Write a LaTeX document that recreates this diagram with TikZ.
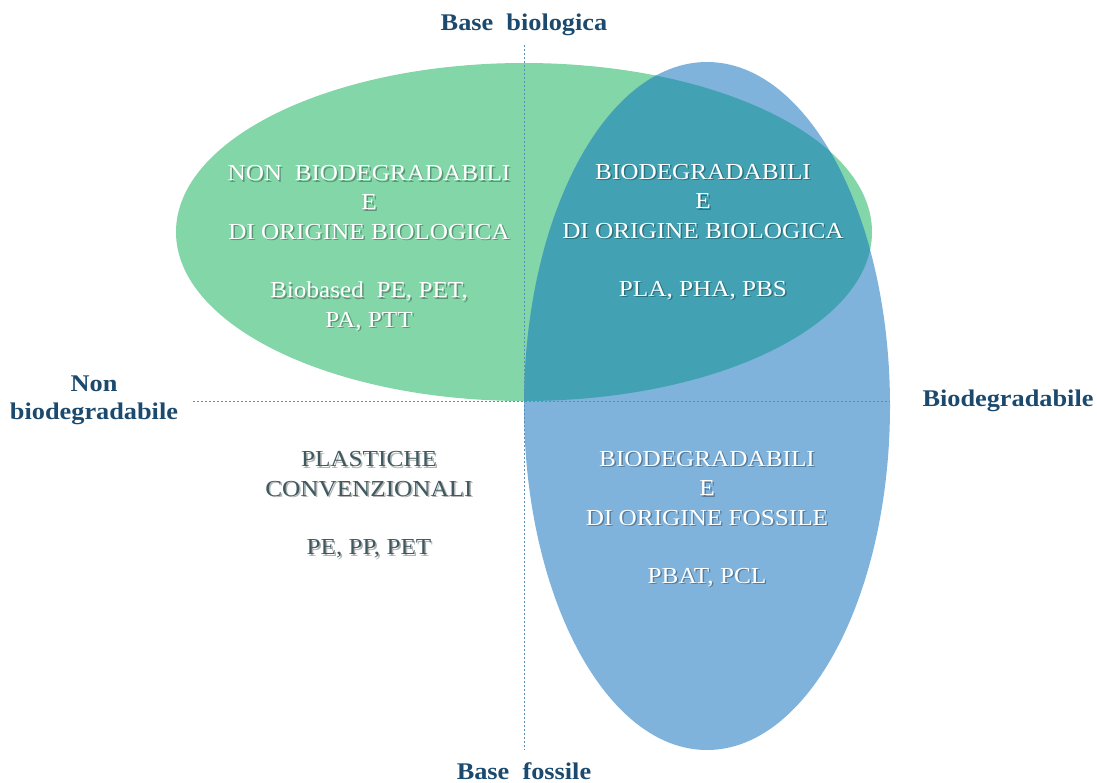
\documentclass[tikz,border=0pt]{standalone}
\usepackage{fontspec}
\setmainfont{Liberation Serif}[FakeStretch=1.1]
\definecolor{verde}{HTML}{82D6A8}
\definecolor{azzurro}{HTML}{7FB3DC}
\definecolor{petrolio}{HTML}{42A1B3}
\definecolor{titoli}{HTML}{1B4A6E}
\definecolor{ardesia}{HTML}{3E5A60}
\definecolor{assi}{HTML}{5C8FB0}
% testo con ombra
\newcommand{\conombra}[4]{%
  \node[ombra, xshift=1.5bp, yshift=-1.5bp] at (#2) {#4};
  \node[interno, text=#3] (#1) at (#2) {#4};}

\begin{document}
\begin{tikzpicture}[x=1bp,y=-1bp,
  asse/.style={draw=assi, line width=0.8bp, dash pattern=on 2bp off 2bp},
  etichetta/.style={text=titoli, align=center, font=\fontsize{24}{28}\selectfont\bfseries},
  interno/.style={align=center, font=\fontsize{23}{29.5}\selectfont},
  ombra/.style={interno, text=black, opacity=0.3}]
\useasboundingbox (0,0) rectangle (1097,783);

% insiemi
\fill[verde] (524,232) ellipse [x radius=348bp, y radius=169bp];
\fill[azzurro] (707,406) ellipse [x radius=183bp, y radius=344bp];
\begin{scope}
  \clip (524,232) ellipse [x radius=348bp, y radius=169bp];
  \fill[petrolio] (707,406) ellipse [x radius=183bp, y radius=344bp];
\end{scope}

% assi
\coordinate (alto) at (524,45);
\coordinate (basso) at (524,750);
\coordinate (sx) at (193,401);
\coordinate (dx) at (890,401);
\draw[asse] (alto) -- (basso);
\draw[asse] (sx) -- (dx);

% etichette degli assi
\node[etichetta] (biologica) at (524,25) {Base\ \ biologica};
\node[etichetta] (fossile) at (524,771) {Base\ \ fossile};
\node[etichetta] (nonbio) at (94,400) {Non\\biodegradabile};
\node[etichetta] (bio) at (1008,401) {Biodegradabile};

% quadranti
\conombra{q1}{369,248}{white}{NON\ \ BIODEGRADABILI\\E\\DI ORIGINE BIOLOGICA\\[29bp]Biobased\ \ PE, PET,\\PA, PTT}
\conombra{q2}{703,232}{white}{BIODEGRADABILI\\E\\DI ORIGINE BIOLOGICA\\[29bp]PLA, PHA, PBS}
\conombra{q3}{707,519}{white}{BIODEGRADABILI\\E\\DI ORIGINE FOSSILE\\[29bp]PBAT, PCL}
\conombra{q4}{369,505}{ardesia}{PLASTICHE\\CONVENZIONALI\\[29bp]PE, PP, PET}
\end{tikzpicture}
\end{document}
